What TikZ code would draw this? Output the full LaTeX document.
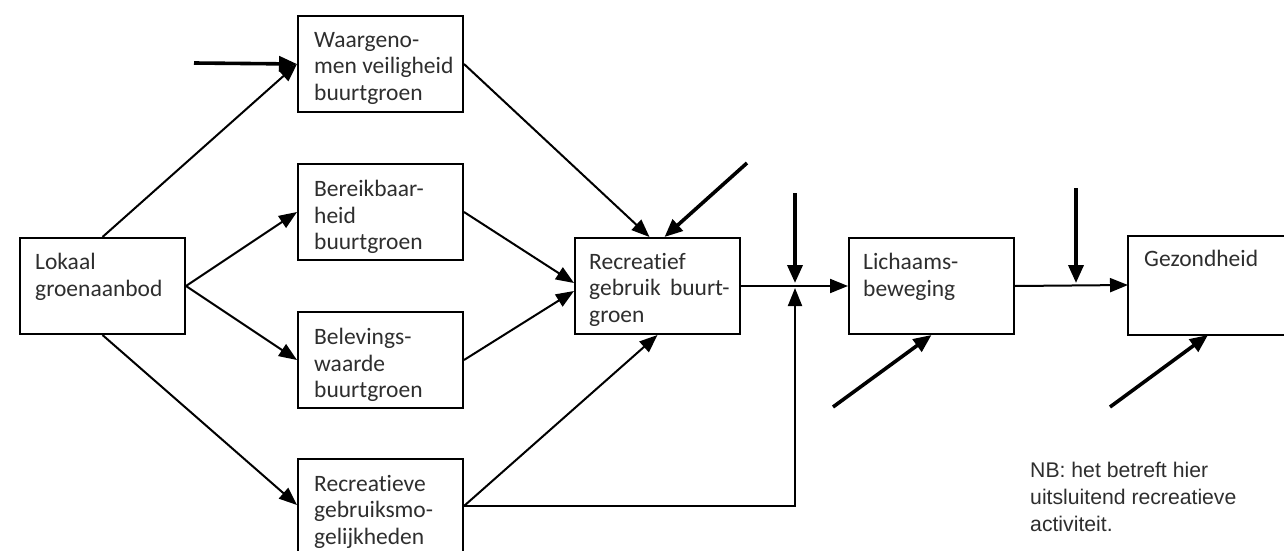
\documentclass[tikz,border=0pt]{standalone}
\usepackage{fontspec}
\setmainfont{Carlito}[Ligatures=NoCommon]
\newfontfamily\nbfont{Liberation Sans}
\usetikzlibrary{arrows.meta,calc}
\definecolor{txtgray}{HTML}{2E2E2E}
\begin{document}
\begin{tikzpicture}[x=1pt,y=-1pt,
  box/.style={draw, line width=2pt, rectangle, anchor=north west, inner sep=0pt,
              minimum width=165pt, minimum height=96pt},
  txt/.style={anchor=north west, inner sep=0pt, align=left, text=txtgray,
              font=\fontsize{23.5}{26.5}\selectfont},
  nbtxt/.style={anchor=north west, inner sep=0pt, align=left, text=txtgray,
              font=\nbfont\fontsize{21.2}{27}\selectfont},
  ln/.style={line width=2pt, -{Triangle[length=18pt,width=14pt]}},
  thk/.style={line width=3.6pt, -{Triangle[length=18pt,width=15pt]}}]
\useasboundingbox (0,0) rectangle (1284,551);
\clip (0,0) rectangle (1284,551);
\fill[white] (0,0) rectangle (1284,551);

% boxes
\node[box] (lok)  at (19,237)  {};
\node[box] (waar) at (297,15)  {};
\node[box] (ber)  at (297,163) {};
\node[box] (bel)  at (297,311) {};
\node[box, minimum height=100pt] (rve)  at (297,458) {};
\node[box] (rec)  at (574,237) {};
\node[box] (lich) at (848,237) {};
\node[box, draw=none, minimum width=180pt, minimum height=97pt] (gez) at (1128,236) {};
\draw[line width=2pt] (gez.north east) -- (gez.north west) -- (gez.south west) -- (gez.south east);

% texts
\node[txt] (tlok)  at ($(lok.north west)+(16,16)$)  {Lokaal\\groenaanbod};
\node[txt] (twaar) at ($(waar.north west)+(17,17)$) {Waargeno-\\men veiligheid\\buurtgroen};
\node[txt] (tber)  at ($(ber.north west)+(17,17)$)  {Bereikbaar-\\heid\\buurtgroen};
\node[txt] (tbel)  at ($(bel.north west)+(17,17)$)  {Belevings-\\waarde\\buurtgroen};
\node[txt] (trve)  at ($(rve.north west)+(17,17)$)  {Recreatieve\\gebruiksmo-\\gelijkheden};
\node[txt] (trec)  at ($(rec.north west)+(15,16)$)  {Recreatief\\gebruik\hspace{4pt} buurt-\\groen};
\node[txt] (tlich) at ($(lich.north west)+(15,16)$) {Lichaams-\\beweging};
\node[txt] (tgez)  at ($(gez.north west)+(16,14)$)  {Gezondheid};
\node[nbtxt] (nb) at (1030,462) {NB: het betreft hier\\uitsluitend recreatieve\\activiteit.};

% free ends
\coordinate (in1) at (194,63);
\coordinate (in2) at (747,163);
\coordinate (in3) at (795,193);
\coordinate (in4) at (1076,188);
\coordinate (in5) at (833,407);
\coordinate (in6) at (1110,407);
\coordinate (j1) at (795,285);
\coordinate (j2) at (1076,285);

% connectors
\draw[thk] (in1) -- (waar.west);
\draw[ln] (lok.north) -- (waar.west);
\draw[ln] (lok.east) -- (ber.west);
\draw[ln] (lok.east) -- (bel.west);
\draw[ln] (lok.south) -- ($(rve.north west)+(0,47)$);
\draw[ln] ($(rve.north east)+(0,48)$) -- (rec.south);
\draw[ln] ($(rve.north east)+(0,48)$) -| ($(j1)+(0,3)$);
\draw[ln] (waar.east) -- ($(rec.north)+(-8,0)$);
\draw[thk] (in2) -- ($(rec.north)+(7,0)$);
\draw[ln] (ber.east) -- ($(rec.west)+(0,-3)$);
\draw[ln] (bel.east) -- ($(rec.west)+(0,5)$);
\draw[ln] (rec.east) -- (lich.west);
\draw[thk] (in3) -- ($(j1)+(0,-2)$);
\draw[ln] (lich.east) -- (j2 -| gez.west);
\draw[thk] (in4) -- ($(j2)+(0,-2)$);
\draw[thk] (in5) -- (lich.south);
\draw[thk] (in6) -- ($(1208,0 |- gez.south)$);
\end{tikzpicture}
\end{document}
